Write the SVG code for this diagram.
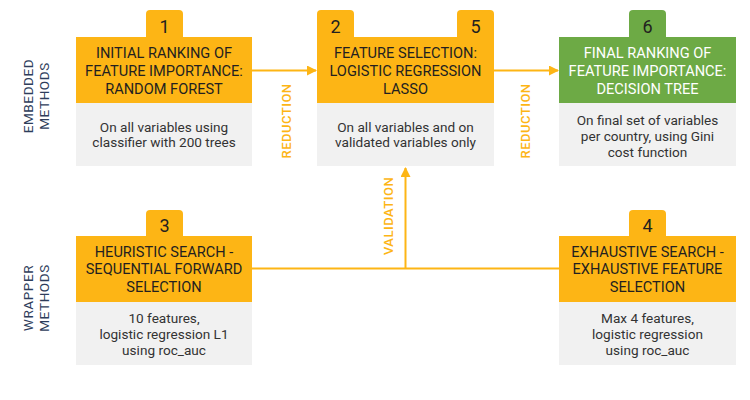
<svg xmlns="http://www.w3.org/2000/svg" width="750" height="400" viewBox="0 0 750 400">
<defs>
<style>
.hdr{fill:#FDB515}
.grn{fill:#6DAA45}
.body{fill:#F1F1F1}
.ht{font-family:Roboto,"Liberation Sans",sans-serif;font-size:14.6px;fill:#231F20;text-anchor:middle}
.htw{fill:#FFFFFF}
.bt{font-family:Roboto,"Liberation Sans",sans-serif;font-size:13.6px;fill:#333333;text-anchor:middle}
.num{font-family:Roboto,"Liberation Sans",sans-serif;font-size:18px;fill:#231F20;text-anchor:middle}
.lab{font-family:Roboto,"Liberation Sans",sans-serif;font-size:13px;font-weight:500;fill:#FDB515;text-anchor:middle;letter-spacing:0.5px}
.side{font-family:Roboto,"Liberation Sans",sans-serif;font-size:13.5px;fill:#2E3D5B;text-anchor:middle;letter-spacing:0.6px}
.ln{stroke:#FDB515;stroke-width:2;fill:none}
</style>
<marker id="ah" viewBox="0 0 10 10" refX="9" refY="5" markerWidth="5" markerHeight="5" orient="auto">
<path d="M0,0 L10,5 L0,10 z" fill="#FDB515"/>
</marker>
</defs>
<rect width="750" height="400" fill="#FFFFFF"/>

<g id="side-labels">
<text class="side" transform="translate(33,96) rotate(-90)">EMBEDDED</text>
<text class="side" transform="translate(49,96) rotate(-90)">METHODS</text>
<text class="side" transform="translate(33,298) rotate(-90)">WRAPPER</text>
<text class="side" transform="translate(49,298) rotate(-90)">METHODS</text>
</g>

<g id="connectors">
<line class="ln" x1="252" y1="70.5" x2="316" y2="70.5" marker-end="url(#ah)"/>
<line class="ln" x1="494" y1="70.5" x2="558" y2="70.5" marker-end="url(#ah)"/>
<line class="ln" x1="252" y1="268.5" x2="559" y2="268.5"/>
<line class="ln" x1="405.5" y1="268.5" x2="405.5" y2="168" marker-end="url(#ah)"/>
<text class="lab" transform="translate(291,121) rotate(-90)">REDUCTION</text>
<text class="lab" transform="translate(530,121) rotate(-90)">REDUCTION</text>
<text class="lab" transform="translate(393,216) rotate(-90)">VALIDATION</text>
</g>

<g id="node1">
<path class="hdr" d="M146,37 V14 Q146,10 150,10 H179 Q183,10 183,14 V37 Z"/>
<text class="num" x="164.5" y="32.5">1</text>
<rect class="hdr" x="76" y="37" width="176" height="66"/>
<rect class="body" x="76" y="103" width="176" height="63"/>
<text class="ht" x="164" y="58">INITIAL RANKING OF</text>
<text class="ht" x="164" y="76">FEATURE IMPORTANCE:</text>
<text class="ht" x="164" y="93.5">RANDOM FOREST</text>
<text class="bt" x="164" y="131.5">On all variables using</text>
<text class="bt" x="164" y="147">classifier with 200 trees</text>
</g>

<g id="node2">
<path class="hdr" d="M317,37 V14 Q317,10 321,10 H350 Q354,10 354,14 V37 Z"/>
<text class="num" x="335.5" y="32.5">2</text>
<path class="hdr" d="M457,37 V14 Q457,10 461,10 H490 Q494,10 494,14 V37 Z"/>
<text class="num" x="475.5" y="32.5">5</text>
<rect class="hdr" x="317" y="37" width="177" height="66"/>
<rect class="body" x="317" y="103" width="177" height="63"/>
<text class="ht" x="405.5" y="58">FEATURE SELECTION:</text>
<text class="ht" x="405.5" y="76">LOGISTIC REGRESSION</text>
<text class="ht" x="405.5" y="93.5">LASSO</text>
<text class="bt" x="405.5" y="131.5">On all variables and on</text>
<text class="bt" x="405.5" y="147">validated variables only</text>
</g>

<g id="node6">
<path class="grn" d="M629,37 V14 Q629,10 633,10 H662 Q666,10 666,14 V37 Z"/>
<text class="num htw" x="647.5" y="32.5">6</text>
<rect class="grn" x="559" y="37" width="177" height="66"/>
<rect class="body" x="559" y="103" width="177" height="63"/>
<text class="ht htw" x="647.5" y="58">FINAL RANKING OF</text>
<text class="ht htw" x="647.5" y="76">FEATURE IMPORTANCE:</text>
<text class="ht htw" x="647.5" y="93.5">DECISION TREE</text>
<text class="bt" x="647.5" y="125">On final set of variables</text>
<text class="bt" x="647.5" y="141">per country, using Gini</text>
<text class="bt" x="647.5" y="157">cost function</text>
</g>

<g id="node3">
<path class="hdr" d="M146,236 V214 Q146,210 150,210 H179 Q183,210 183,214 V236 Z"/>
<text class="num" x="164.5" y="231.5">3</text>
<rect class="hdr" x="76" y="236" width="176" height="66"/>
<rect class="body" x="76" y="302" width="176" height="63"/>
<text class="ht" x="164" y="257">HEURISTIC SEARCH -</text>
<text class="ht" x="164" y="274">SEQUENTIAL FORWARD</text>
<text class="ht" x="164" y="291.5">SELECTION</text>
<text class="bt" x="164" y="323">10 features,</text>
<text class="bt" x="164" y="338.5">logistic regression L1</text>
<text class="bt" x="164" y="355">using roc_auc</text>
</g>

<g id="node4">
<path class="hdr" d="M629,236 V214 Q629,210 633,210 H662 Q666,210 666,214 V236 Z"/>
<text class="num" x="647.5" y="231.5">4</text>
<rect class="hdr" x="559" y="236" width="177" height="66"/>
<rect class="body" x="559" y="302" width="177" height="63"/>
<text class="ht" x="647.5" y="257">EXHAUSTIVE SEARCH -</text>
<text class="ht" x="647.5" y="274">EXHAUSTIVE FEATURE</text>
<text class="ht" x="647.5" y="291.5">SELECTION</text>
<text class="bt" x="647.5" y="323">Max 4 features,</text>
<text class="bt" x="647.5" y="338.5">logistic regression</text>
<text class="bt" x="647.5" y="355">using roc_auc</text>
</g>
</svg>
